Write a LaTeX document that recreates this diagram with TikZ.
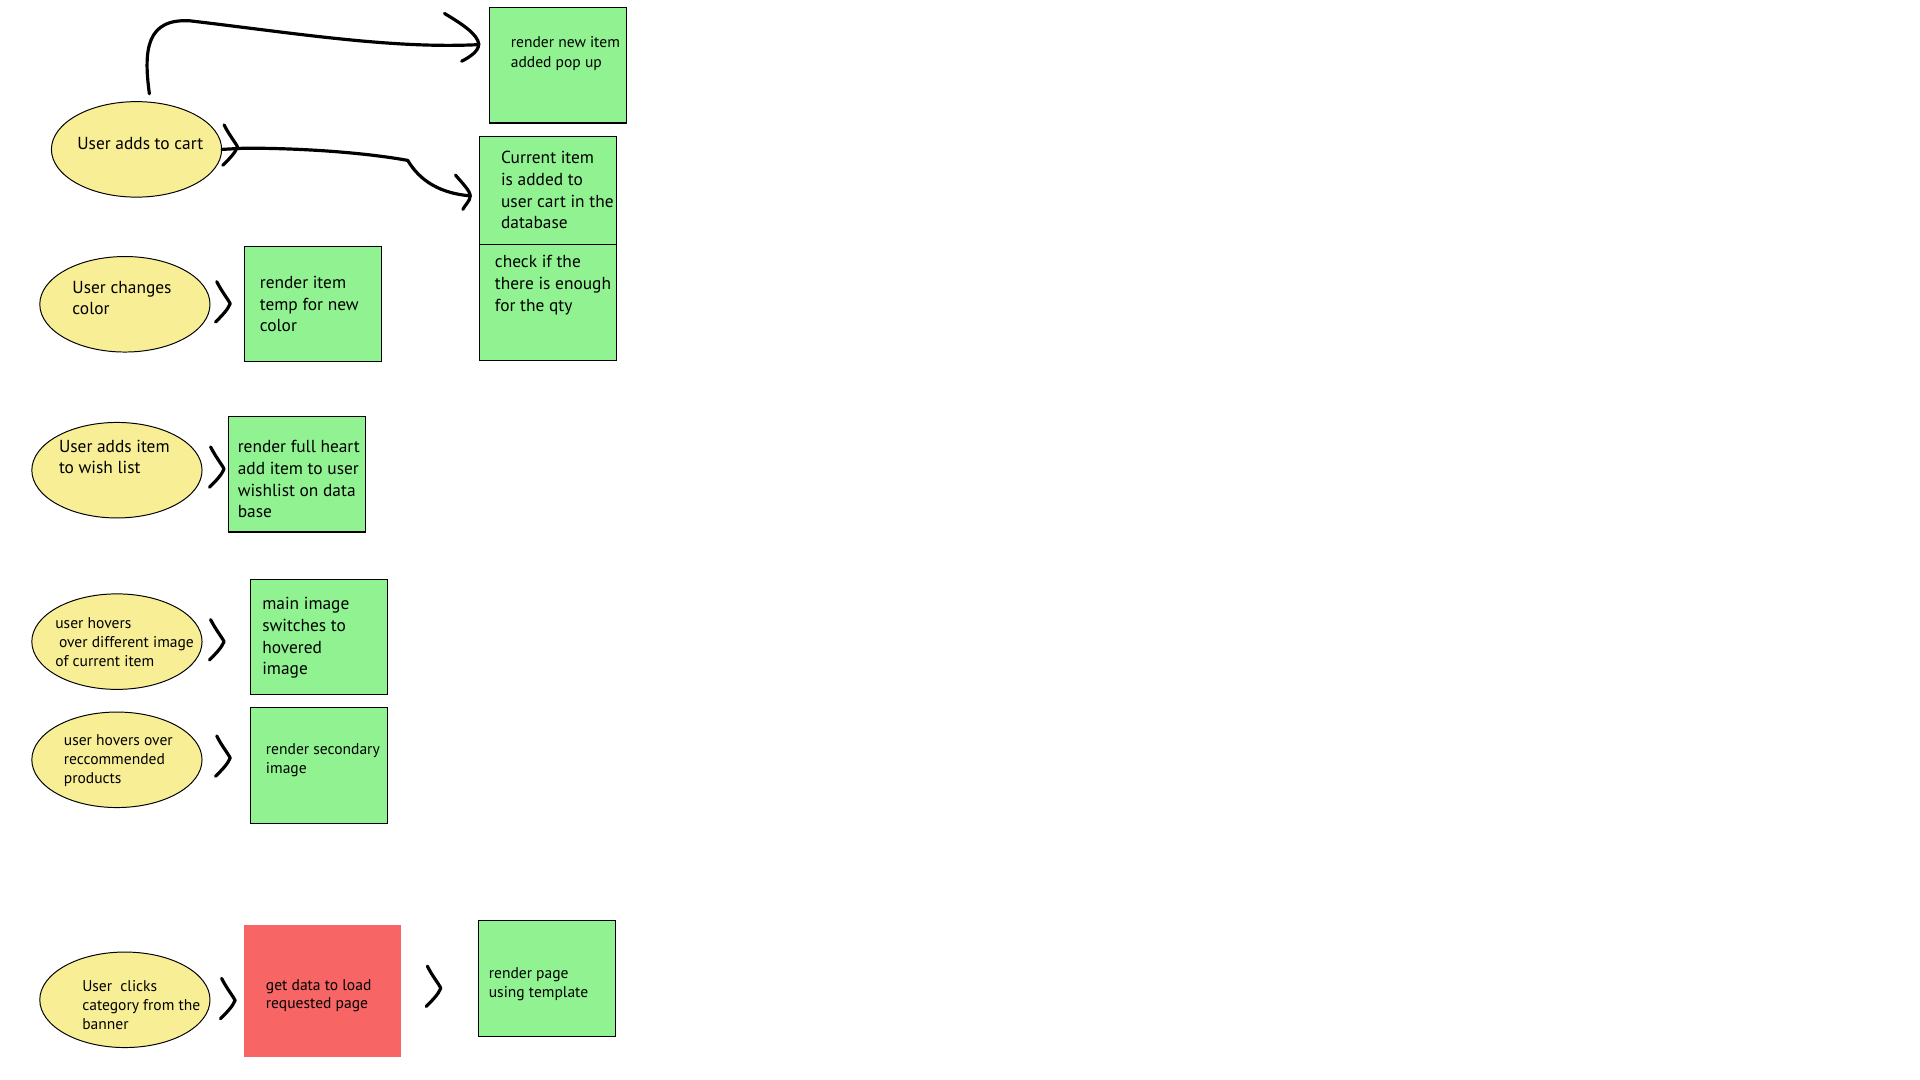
\documentclass[tikz,border=0pt]{standalone}
\usepackage{fontspec}
\setmainfont{PT Sans}
\usetikzlibrary{shapes.geometric,calc}
\definecolor{ellfill}{RGB}{247,238,150}
\definecolor{boxfill}{RGB}{144,242,144}
\definecolor{redfill}{RGB}{247,101,101}
\tikzset{
  ell/.style={ellipse, draw=black, line width=0.8pt, fill=ellfill,
    minimum width=139pt, minimum height=78pt, inner sep=0pt},
  gbox/.style={rectangle, draw=black, line width=0.9pt, fill=boxfill,
    minimum width=112pt, minimum height=94pt, inner sep=0pt, anchor=north west},
  rbox/.style={rectangle, fill=redfill, minimum width=128pt,
    minimum height=108pt, inner sep=0pt, anchor=north west},
  % labels are placed by the baseline of their last line
  big/.style={anchor=base west, inner sep=0pt, align=left,
    font=\fontsize{14.2}{17.7}\selectfont},
  small/.style={anchor=base west, inner sep=0pt, align=left,
    font=\fontsize{12.7}{15.5}\selectfont},
  stroke/.style={line width=2.6pt, line cap=round, line join=round},
  chev/.pic={\draw[stroke] (-5,-18) .. controls (-1,-10) and (4,-4) .. (6,0)
     .. controls (4,5) and (-1,10) .. (-6,15);}
}
\begin{document}
\begin{tikzpicture}[x=1pt,y=-1pt]
\fill[white] (0,0) rectangle (1568,882);
\useasboundingbox (0,0) rectangle (1568,882);

% event ellipses
\node[ell] (cart)   at (111.5,122)   {};
\node[ell] (color)  at (102,248.5)   {};
\node[ell] (wish)   at (95.5,384)    {};
\node[ell] (hover)  at (95.5,524)    {};
\node[ell] (recom)  at (95.5,620.5)  {};
\node[ell] (banner) at (102,816.5)   {};

% result boxes
\node[gbox] (popup)  at (399,6)   {};
\node[gbox, minimum height=88pt] (dbcart) at (391,111) {};
\node[gbox, minimum height=95pt] (qty)    at (391,199) {};
\node[gbox] (temp)   at (199,201) {};
\node[gbox] (heart)  at (186,340) {};
\node[gbox] (mainimg) at (204,473) {};
\node[gbox, minimum height=95pt] (second) at (204,577) {};
\node[rbox] (getdata) at (199,755) {};
\node[gbox, minimum height=95pt] (page)   at (390,751) {};

% labels
\node[big] (lcart) at (63,122) {User adds to cart};
\node[big] (lcolor) at (59,257) {User changes\\color};
\node[big] (lwish) at (48,387) {User adds item\\to wish list};
\node[small] (lhover) at (45,544) {user hovers\\\hspace{3pt}over different image\\of current item};
\node[small] (lrecom) at (52,640) {user hovers over\\reccommended\\products};
\node[small] (lbanner) at (67,841) {User\ \ clicks\\category from the\\banner};

\node[small, font=\fontsize{12.7}{16}\selectfont] (lpopup) at (417,55) {render new item\\added pop up};
\node[big] (ldbcart) at (409,187) {Current item\\is added to\\user cart in the\\database};
\node[big] (lqty) at (404,254) {check if the\\there is enough\\for the qty};
\node[big] (ltemp) at (212,271) {render item\\temp for new\\color};
\node[big] (lheart) at (194,423) {render full heart\\add item to user\\wishlist on data\\base};
\node[big] (lmain) at (214,551) {main image\\switches to\\hovered\\image};
\node[small, font=\fontsize{12.7}{16}\selectfont] (lsecond) at (217,632) {render secondary\\image};
\node[small] (lgetdata) at (217,824) {get data to load\\requested page};
\node[small] (lpage) at (399,815) {render page\\using template};

% add-to-cart connectors
\draw[stroke] ($(cart.north)+(10.5,-6)$) .. controls (117,40) and (120,15) .. (155,17)
  .. controls (240,27) and (320,40) .. ($(popup.west)+(-8,-17)$);
\draw[stroke] (363,11) .. controls (378,20) and (390,28) .. (391,36)
  .. controls (391,42) and (383,47) .. (377,50);

\draw[stroke] (cart.east) -- (200,121) .. controls (250,121) and (300,125) .. (333,131)
  .. controls (343,148) and (360,158) .. ($(dbcart.west)+(-7,4.5)$);
\draw[stroke] (372,143) .. controls (378,150) and (384,156) .. (384,160)
  .. controls (384,164) and (380,167) .. (378,171);

% chevrons between steps
\pic at (188,120) {chev};
\pic at (182,248) {chev};
\pic at (177,383) {chev};
\pic at (177,524) {chev};
\pic at (182,619) {chev};
\pic at (186,817) {chev};
\pic at (354,807) {chev};
\end{tikzpicture}
\end{document}
